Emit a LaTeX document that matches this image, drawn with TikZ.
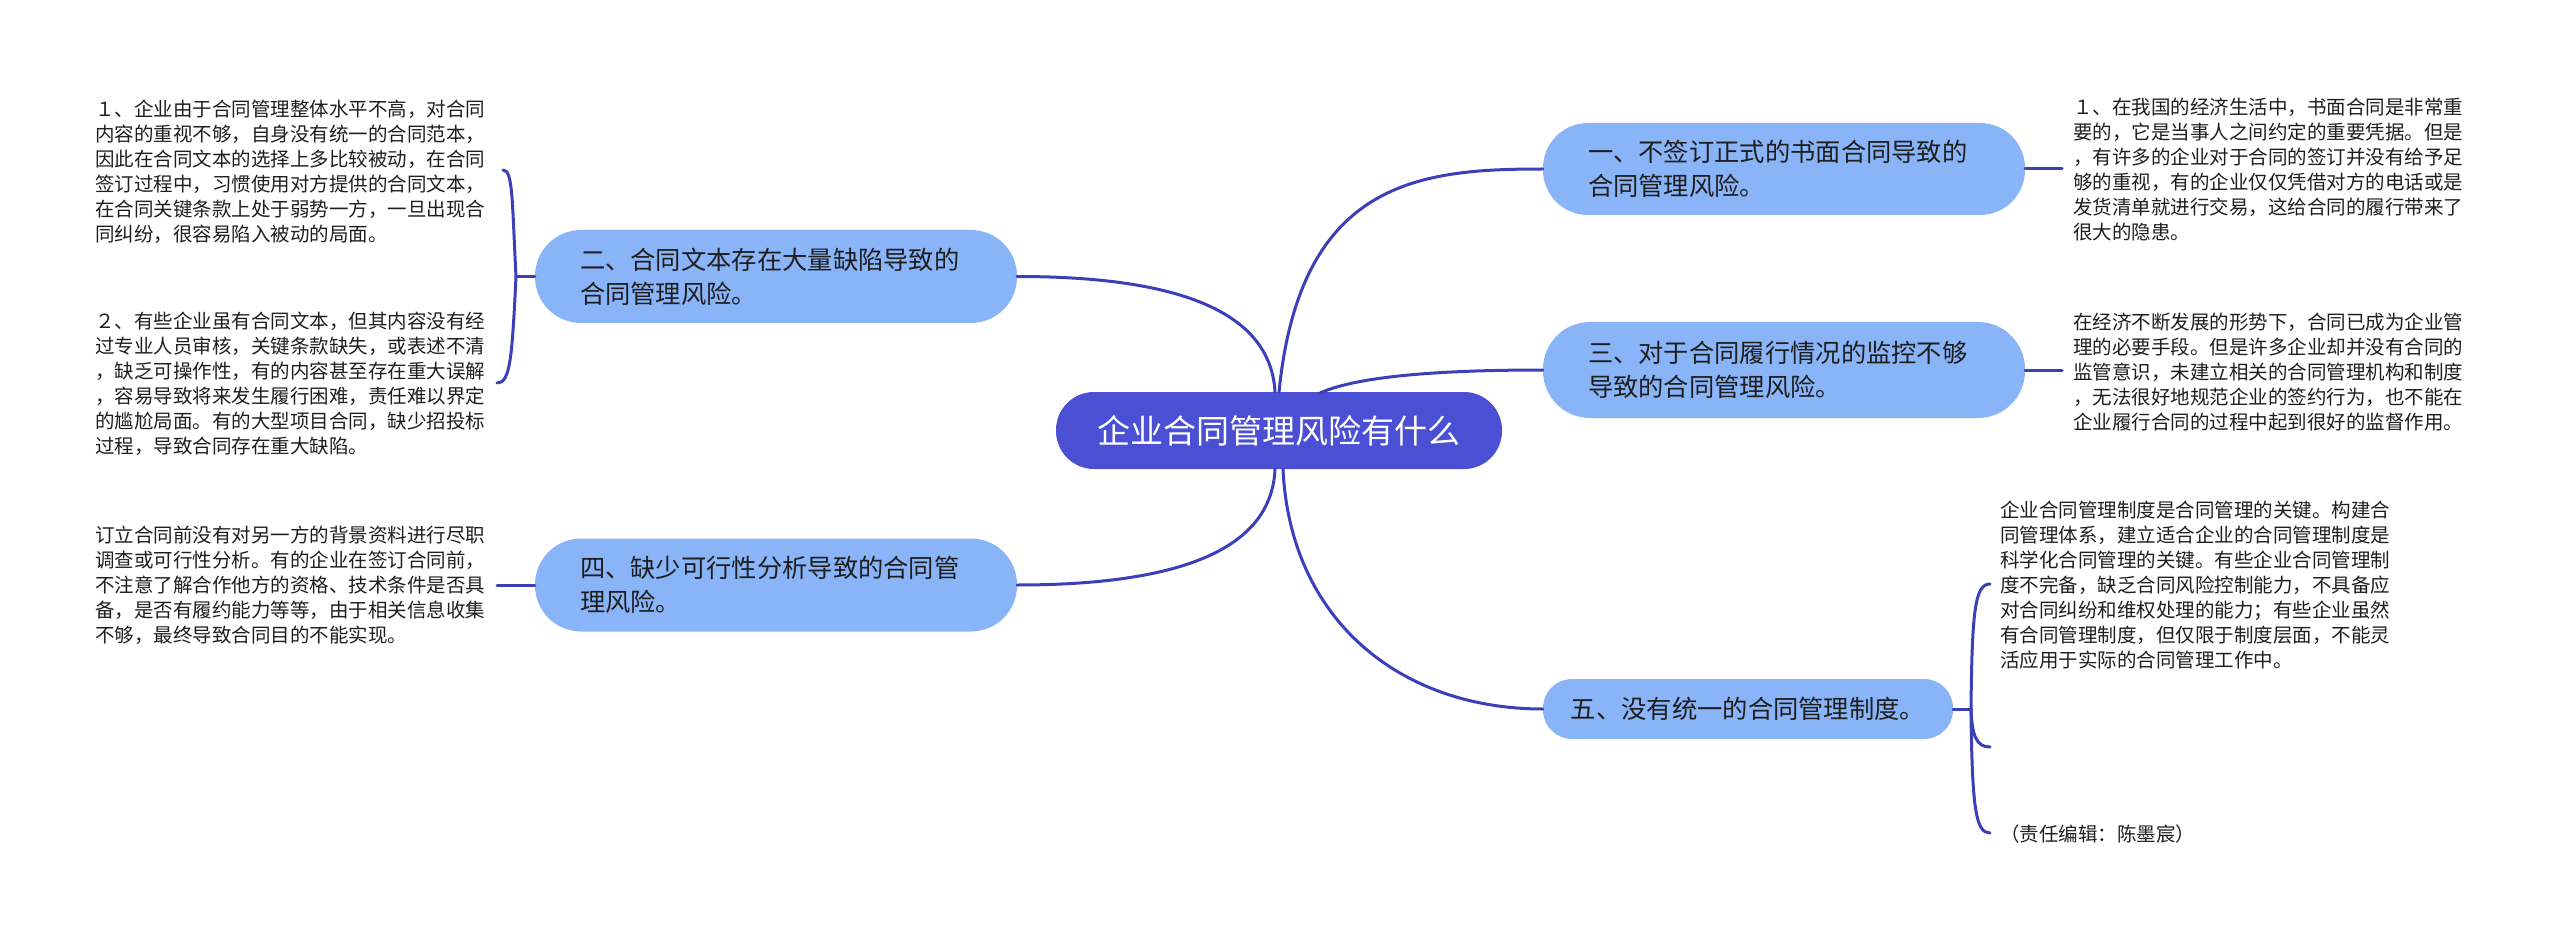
\documentclass[tikz,border=0pt]{standalone}
\usepackage{fontspec}
\setmainfont{Noto Sans CJK SC}
\definecolor{centerfill}{HTML}{4A4FD4}
\definecolor{branchfill}{HTML}{8AB4F8}
\definecolor{linecol}{HTML}{3B3FB8}
\definecolor{txt}{HTML}{1E1E1E}
\begin{document}
\begin{tikzpicture}[x=1pt,y=-1pt,
  branch/.style={fill=branchfill, text=txt, font=\fontsize{25.3}{34}\selectfont, align=left,
    text width=392pt, inner xsep=45pt, inner ysep=0pt, minimum width=482pt},
  rootnode/.style={fill=centerfill, text=white, font=\fontsize{33}{40}\selectfont,
    minimum width=446pt, minimum height=77pt, rounded corners=38pt, inner sep=0pt},
  leaf/.style={text=txt, font=\fontsize{19.5}{25}\selectfont, align=left, inner sep=0pt, anchor=west},
  conn/.style={draw=linecol, line width=3pt, line cap=round}
]
\useasboundingbox (0,0) rectangle (2560,941);

% root
\node[rootnode] (root) at (1279,430.5) {企业合同管理风险有什么};

% branches
\node[branch, minimum height=92pt, rounded corners=45pt] (n1) at (1784,169) {一、不签订正式的书面合同导致的\\合同管理风险。};
\node[branch, minimum height=93pt, rounded corners=46pt] (n2) at (776,276.5) {二、合同文本存在大量缺陷导致的\\合同管理风险。};
\node[branch, minimum height=96pt, rounded corners=47pt] (n3) at (1784,370) {三、对于合同履行情况的监控不够\\导致的合同管理风险。};
\node[branch, minimum height=93pt, rounded corners=46pt] (n4) at (776,585) {四、缺少可行性分析导致的合同管\\理风险。};
\node[fill=branchfill, text=txt, font=\fontsize{25.3}{34}\selectfont, minimum width=410pt,
  minimum height=60pt, rounded corners=29pt, inner sep=0pt] (n5) at (1748,709) {五、没有统一的合同管理制度。};

% leaves
\node[leaf] (l21) at (95,172) {１、企业由于合同管理整体水平不高，对合同\\内容的重视不够，自身没有统一的合同范本，\\因此在合同文本的选择上多比较被动，在合同\\签订过程中，习惯使用对方提供的合同文本，\\在合同关键条款上处于弱势一方，一旦出现合\\同纠纷，很容易陷入被动的局面。};
\node[leaf] (l22) at (95,384) {２、有些企业虽有合同文本，但其内容没有经\\过专业人员审核，关键条款缺失，或表述不清\\，缺乏可操作性，有的内容甚至存在重大误解\\，容易导致将来发生履行困难，责任难以界定\\的尴尬局面。有的大型项目合同，缺少招投标\\过程，导致合同存在重大缺陷。};
\node[leaf] (l41) at (95,585) {订立合同前没有对另一方的背景资料进行尽职\\调查或可行性分析。有的企业在签订合同前，\\不注意了解合作他方的资格、技术条件是否具\\备，是否有履约能力等等，由于相关信息收集\\不够，最终导致合同目的不能实现。};
\node[leaf] (l11) at (2073,170) {１、在我国的经济生活中，书面合同是非常重\\要的，它是当事人之间约定的重要凭据。但是\\，有许多的企业对于合同的签订并没有给予足\\够的重视，有的企业仅仅凭借对方的电话或是\\发货清单就进行交易，这给合同的履行带来了\\很大的隐患。};
\node[leaf] (l31) at (2073,372) {在经济不断发展的形势下，合同已成为企业管\\理的必要手段。但是许多企业却并没有合同的\\监管意识，未建立相关的合同管理机构和制度\\，无法很好地规范企业的签约行为，也不能在\\企业履行合同的过程中起到很好的监督作用。};
\node[leaf] (l51) at (2000,585) {企业合同管理制度是合同管理的关键。构建合\\同管理体系，建立适合企业的合同管理制度是\\科学化合同管理的关键。有些企业合同管理制\\度不完备，缺乏合同风险控制能力，不具备应\\对合同纠纷和维权处理的能力；有些企业虽然\\有合同管理制度，但仅限于制度层面，不能灵\\活应用于实际的合同管理工作中。};
\node[leaf] (l53) at (2000,834) {（责任编辑：陈墨宸）};

% main connectors
\draw[conn] (1279,392) .. controls (1300,180) and (1420,169) .. (n1.west);
\draw[conn] (n2.east) .. controls (1150,276.5) and (1270,300) .. (1275,392);
\draw[conn] (1320,393) .. controls (1360,375) and (1450,370) .. (n3.west);
\draw[conn] (1275,469) .. controls (1272,540) and (1200,585) .. (n4.east);
\draw[conn] (1283,469) .. controls (1290,620) and (1400,709) .. (n5.west);

% leaf connectors
\coordinate (b2) at (516,276.5);
\coordinate (e21) at (503,170);
\coordinate (e22) at (497,383);
\draw[conn] (n2.west) -- (b2);
\draw[conn] (b2) .. controls (512,200) and (513,170) .. (e21);
\draw[conn] (b2) .. controls (512,360) and (510,383) .. (e22);

\coordinate (e41) at (497,585);
\draw[conn] (n4.west) -- (e41);

\coordinate (e11) at (2062,169);
\draw[conn] (n1.east) -- (e11);
\coordinate (e31) at (2062,370);
\draw[conn] (n3.east) -- (e31);

\coordinate (b5) at (1971,709);
\coordinate (e51) at (1990,584);
\coordinate (e52) at (1990,747);
\coordinate (e53) at (1990,833);
\draw[conn] (n5.east) -- (b5);
\draw[conn] (b5) .. controls (1972,610) and (1975,584) .. (e51);
\draw[conn] (b5) .. controls (1972,735) and (1976,747) .. (e52);
\draw[conn] (b5) .. controls (1972,810) and (1976,833) .. (e53);
\end{tikzpicture}
\end{document}
